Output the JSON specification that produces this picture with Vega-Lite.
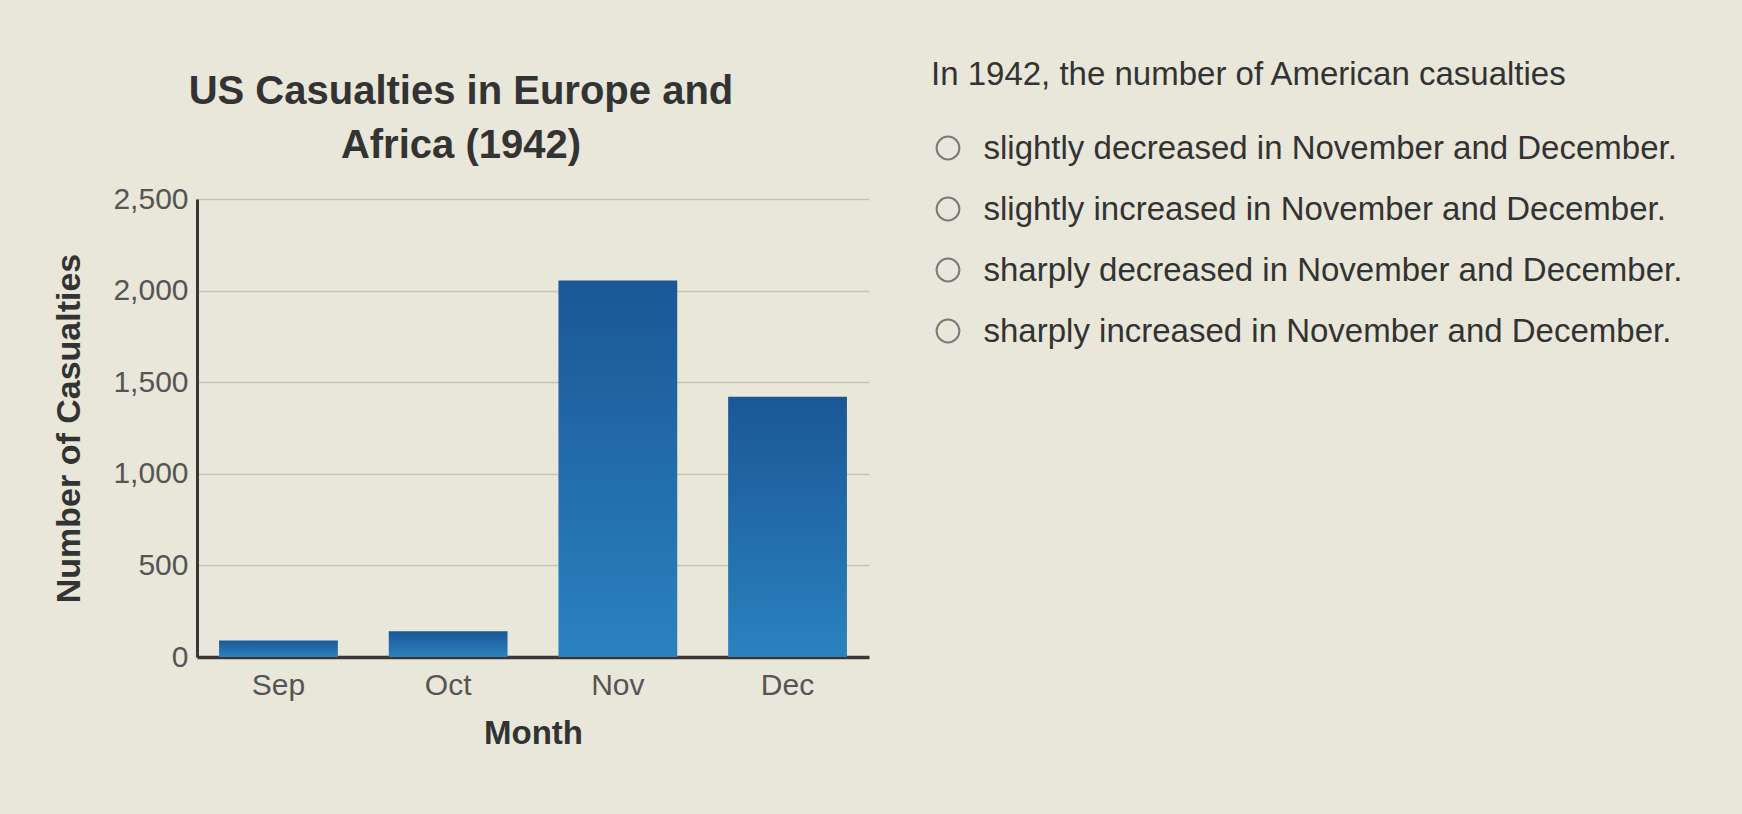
{
  "$schema": "https://vega.github.io/schema/vega-lite/v6.json",
  "background": "#e8e7d9",
  "padding": {"left": 52, "top": 59, "right": 60, "bottom": 42},
  "config": {
    "view": {"stroke": null},
    "font": "Liberation Sans"
  },
  "spacing": 62,
  "center": true,
  "hconcat": [
    {
      "width": 672,
      "height": 458,
      "title": {
        "text": ["US Casualties in Europe and", "Africa (1942)"],
        "font": "Liberation Sans",
        "fontSize": 40,
        "fontWeight": "bold",
        "lineHeight": 54,
        "color": "#333333",
        "anchor": "middle",
        "frame": "bounds",
        "offset": 18
      },
      "data": {
        "values": [
          {"Month": "Sep", "Casualties": 90},
          {"Month": "Oct", "Casualties": 140},
          {"Month": "Nov", "Casualties": 2055},
          {"Month": "Dec", "Casualties": 1420}
        ]
      },
      "mark": {
        "type": "bar",
        "color": {
          "gradient": "linear",
          "x1": 0, "y1": 0, "x2": 0, "y2": 1,
          "stops": [
            {"offset": 0, "color": "#1b5796"},
            {"offset": 1, "color": "#2a82bf"}
          ]
        }
      },
      "encoding": {
        "x": {
          "field": "Month",
          "type": "nominal",
          "sort": ["Sep", "Oct", "Nov", "Dec"],
          "scale": {"paddingInner": 0.3, "paddingOuter": 0.13},
          "axis": {
            "title": "Month",
            "titleFont": "Liberation Sans",
            "titleFontSize": 33,
            "titleFontWeight": "bold",
            "titleColor": "#333333",
            "titlePadding": 17,
            "labelAngle": 0,
            "labelFont": "Liberation Sans",
            "labelFontSize": 30,
            "labelColor": "#555555",
            "labelPadding": 13,
            "ticks": false,
            "tickSize": 0,
            "domainColor": "#3d3535",
            "domainWidth": 3.5
          }
        },
        "y": {
          "field": "Casualties",
          "type": "quantitative",
          "scale": {"domain": [0, 2500], "nice": false},
          "axis": {
            "title": "Number of Casualties",
            "titleFont": "Liberation Sans",
            "titleFontSize": 34,
            "titleFontWeight": "bold",
            "titleColor": "#333333",
            "titlePadding": 26,
            "values": [0, 500, 1000, 1500, 2000, 2500],
            "format": ",d",
            "labelFont": "Liberation Sans",
            "labelFontSize": 30,
            "labelColor": "#555555",
            "labelPadding": 9,
            "ticks": false,
            "tickSize": 0,
            "domainColor": "#3d3535",
            "domainWidth": 3,
            "grid": true,
            "gridColor": "#c4c4bc",
            "gridWidth": 1.5
          }
        }
      }
    },
    {
      "width": 34,
      "height": 653,
      "title": {
        "text": "In 1942, the number of American casualties",
        "font": "Liberation Sans",
        "fontSize": 33,
        "fontWeight": "normal",
        "color": "#333333",
        "anchor": "start",
        "frame": "group",
        "offset": 40
      },
      "data": {
        "values": [
          {"option": "slightly decreased in November and December."},
          {"option": "slightly increased in November and December."},
          {"option": "sharply decreased in November and December."},
          {"option": "sharply increased in November and December."}
        ]
      },
      "mark": {
        "type": "point",
        "shape": "circle",
        "filled": false,
        "size": 520,
        "color": "#7a7a7a",
        "strokeWidth": 2,
        "opacity": 1
      },
      "encoding": {
        "y": {
          "field": "option",
          "type": "nominal",
          "sort": null,
          "scale": {"type": "point", "padding": 0, "range": [0, 183]},
          "axis": {
            "orient": "right",
            "title": null,
            "labelFont": "Liberation Sans",
            "labelFontSize": 33,
            "labelColor": "#333333",
            "labelPadding": 18,
            "labelLimit": 0,
            "ticks": false,
            "tickSize": 0,
            "domain": false,
            "grid": false
          }
        }
      }
    }
  ]
}
